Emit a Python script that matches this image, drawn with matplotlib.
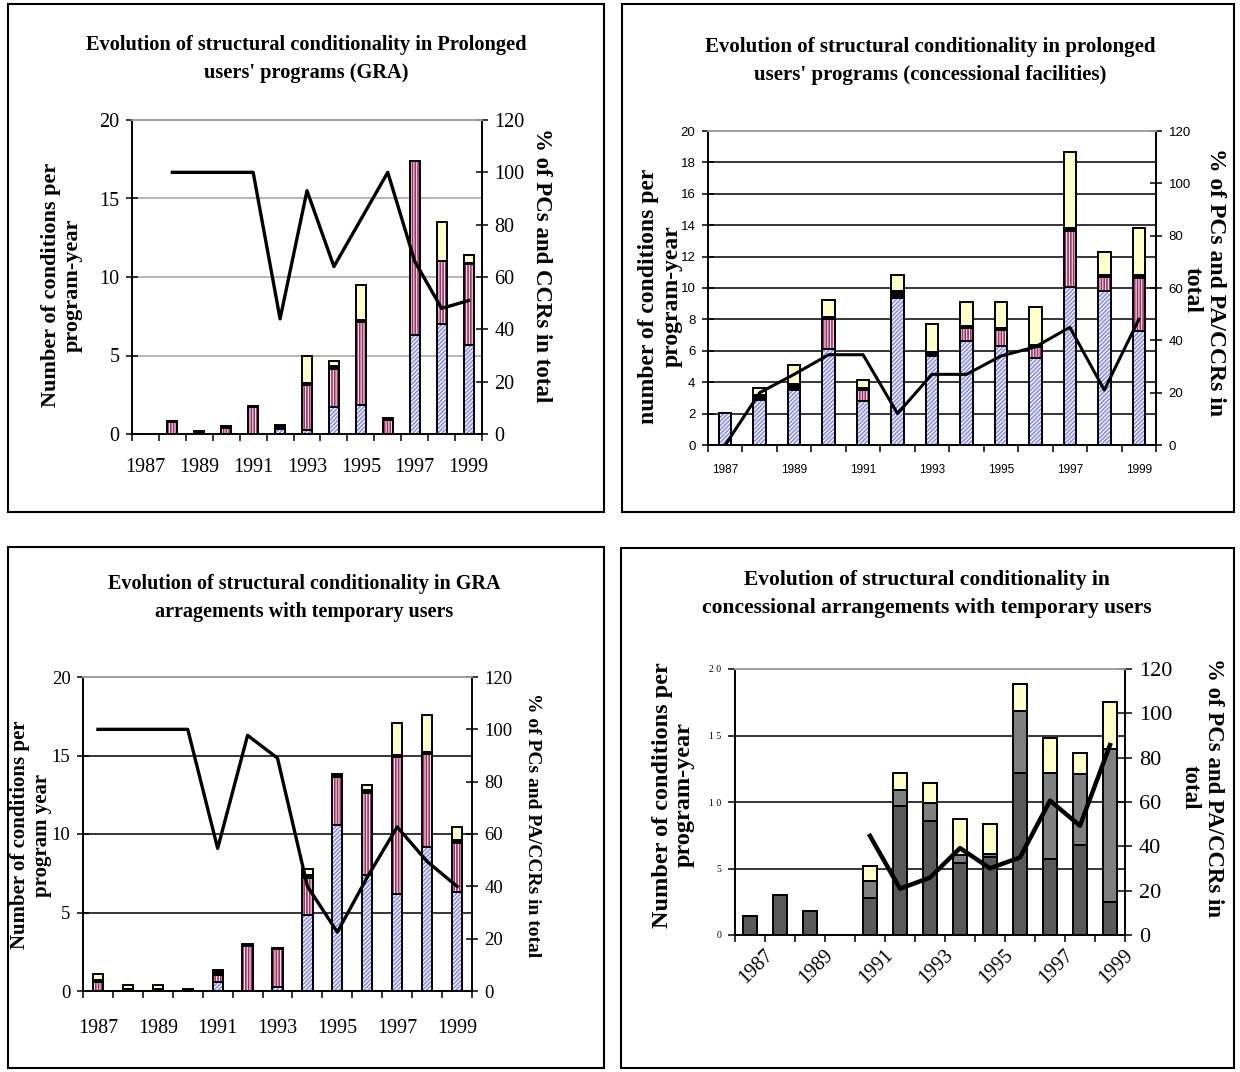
import numpy as np
import matplotlib
matplotlib.use("Agg")
from matplotlib import pyplot as plt
from matplotlib.patches import Rectangle
from matplotlib.ticker import FixedLocator, FuncFormatter
from matplotlib.transforms import ScaledTranslation

# years shared by all four charts
years = [1987, 1988, 1989, 1990, 1991, 1992, 1993, 1994, 1995, 1996, 1997, 1998, 1999]

# top left: prolonged users, GRA
gra_prol_blue = [0, 0, 0, 0, 0, 0.3, 0.25, 1.75, 1.85, 0, 6.3, 7.0, 5.7]
gra_prol_pink = [0, 0.75, 0, 0.4, 1.7, 0, 2.85, 2.4, 5.3, 0.9, 11.1, 4.0, 5.1]
gra_prol_black = [0, 0.1, 0.2, 0.1, 0.1, 0.3, 0.15, 0.2, 0.1, 0.1, 0, 0.05, 0.1]
gra_prol_yellow = [0, 0, 0, 0, 0, 0, 1.7, 0.3, 2.25, 0, 0, 2.45, 0.5]
gra_prol_pct = [np.nan, 100, 100, 100, 100, 44, 93, 64, 82, 100, 66, 48, 51]

# top right: prolonged users, concessional facilities
con_prol_blue = [2.05, 2.85, 3.5, 6.1, 2.8, 9.35, 5.65, 6.65, 6.3, 5.55, 10.05, 9.8, 7.25]
con_prol_pink = [0, 0, 0, 1.9, 0.7, 0, 0, 0.8, 1.0, 0.7, 3.55, 0.9, 3.4]
con_prol_black = [0, 0.35, 0.4, 0.15, 0.15, 0.45, 0.25, 0.15, 0.15, 0.1, 0.2, 0.15, 0.15]
con_prol_yellow = [0, 0.4, 1.2, 1.1, 0.5, 1.0, 1.8, 1.5, 1.65, 2.45, 4.85, 1.45, 3.0]
con_prol_pct = [0, 20, 27, 34.5, 34.5, 12, 27, 27, 34, 37.5, 45, 21, 48]

# bottom left: GRA, temporary users
gra_temp_blue = [0, 0, 0, 0, 0.6, 0, 0.25, 4.85, 10.55, 7.4, 6.2, 9.2, 6.3]
gra_temp_pink = [0.55, 0, 0, 0, 0.45, 2.85, 2.4, 2.35, 3.1, 5.2, 8.7, 5.9, 3.15]
gra_temp_black = [0.15, 0.1, 0.1, 0.1, 0.3, 0.15, 0.1, 0.2, 0.15, 0.2, 0.1, 0.1, 0.15]
gra_temp_yellow = [0.4, 0.3, 0.3, 0, 0, 0, 0, 0.4, 0, 0.3, 2.1, 2.4, 0.85]
gra_temp_pct = [100, 100, 100, 100, 54.5, 97.7, 89, 40, 22.5, 43.5, 62.7, 49.5, 40]

# bottom right: concessional, temporary users
con_temp_dark = [1.45, 3.0, 1.8, 0, 2.75, 9.7, 8.6, 5.4, 5.85, 12.2, 5.7, 6.8, 2.45]
con_temp_grey = [0, 0, 0, 0, 1.3, 1.2, 1.3, 0.6, 0.25, 4.65, 6.5, 5.3, 11.5]
con_temp_yellow = [0, 0, 0, 0, 1.15, 1.3, 1.55, 2.7, 2.25, 2.0, 2.6, 1.6, 3.55]
con_temp_pct = [np.nan, np.nan, np.nan, np.nan, 44.7, 20.9, 25.9, 39.2, 30.1, 35, 60.6, 49.3, 85.7]

W, H = 1240, 1072
fig = plt.figure(figsize=(W / 100, H / 100), dpi=100)
SERIF = ['Liberation Serif', 'DejaVu Serif']
SANS = ['Liberation Sans', 'DejaVu Sans']
plt.rcParams['hatch.linewidth'] = 1.2

x = np.arange(len(years))


def px_axes(left, top, right, bottom):
    return fig.add_axes([left / W, 1 - bottom / H, (right - left) / W, (bottom - top) / H])


def frame(left, top, right, bottom):
    fig.add_artist(Rectangle((left / W, 1 - bottom / H), (right - left) / W, (bottom - top) / H,
                             transform=fig.transFigure, fill=False, lw=1.5, ec='black'))


def label(xp, yp, s, rot, size, ls=1.15):
    fig.text(xp / W, 1 - yp / H, s, rotation=rot, ha='center', va='center',
             family=SERIF, weight='bold', fontsize=size, linespacing=ls)


def stack(ax, parts, width):
    bottom = np.zeros(len(x))
    for vals, fc, hatch, hc in parts:
        vals = np.asarray(vals, float)
        m = vals > 0
        if hatch:
            ax.bar(x[m], vals[m], width, bottom=bottom[m], color=fc, edgecolor=hc,
                   hatch=hatch, linewidth=0, zorder=2)
        else:
            ax.bar(x[m], vals[m], width, bottom=bottom[m], color=fc, linewidth=0, zorder=2)
        ax.bar(x[m], vals[m], width, bottom=bottom[m], fill=False, edgecolor='black',
               linewidth=1.4, zorder=3)
        bottom += vals


def setup(ax, ax2, yticks, grid_color, tick_font, tick_size, xlab_size, xpad, rotate=False):
    ax.set_xlim(-0.5, len(x) - 0.5)
    ax.set_ylim(0, 20)
    ax2.set_ylim(0, 120)
    ax.set_yticks(yticks)
    ax2.set_yticks(range(0, 121, 20))
    ax.set_axisbelow(True)
    for yv in yticks[1:-1]:
        ax.axhline(yv, color=grid_color, lw=1.1, zorder=0)
    for a in (ax, ax2):
        a.spines['top'].set_color('#a0a0a0')
        a.spines['top'].set_linewidth(1.3)
        for s in ('left', 'right', 'bottom'):
            a.spines[s].set_linewidth(1.2)
    ax.tick_params(axis='y', direction='inout', length=8, width=1.1, pad=5)
    ax2.tick_params(axis='y', direction='inout', length=8, width=1.1, pad=5)
    ax.set_xticks(x[::2])
    ax.set_xticklabels([str(y) for y in years[::2]])
    ax.xaxis.set_minor_locator(FixedLocator(np.arange(-0.5, len(x), 1)))
    ax.tick_params(axis='x', which='major', length=0, pad=xpad)
    ax.tick_params(axis='x', which='minor', direction='out', length=5, width=1.1)
    for lab in ax.get_yticklabels() + ax2.get_yticklabels():
        lab.set_family(tick_font)
        lab.set_fontsize(tick_size)
    for lab in ax.get_xticklabels():
        lab.set_family(tick_font)
        lab.set_fontsize(xlab_size)
        if rotate:
            lab.set_rotation(45)
            lab.set_ha('right')
            lab.set_va('top')
            lab.set_rotation_mode('anchor')
            lab.set_transform(lab.get_transform() + ScaledTranslation(0.14, 0, fig.dpi_scale_trans))


blue = ('white', '////////', '#8c8cf0')
pink = ('#f8e4ee', '||||||', '#993366')
blk = ('black', None, None)
yel = ('#ffffcc', None, None)

# ---------- panel 1 ----------
frame(8, 4, 604, 512)
ax = px_axes(132, 120, 482, 434)
ax2 = ax.twinx()
stack(ax, [(gra_prol_blue,) + blue, (gra_prol_pink,) + pink,
           (gra_prol_black,) + blk, (gra_prol_yellow,) + yel], 0.37)
ax2.plot(x, gra_prol_pct, color='black', lw=2.4)
setup(ax, ax2, [0, 5, 10, 15, 20], '#a0a0a0', SERIF, 14.5, 14.5, 17)
label(306, 59, "Evolution of structural conditionality in Prolonged\nusers' programs (GRA)", 0, 14.7, 1.55)
label(62, 285, 'Number of conditions per\nprogram-year', 90, 16)
label(541, 265, '% of PCs and CCRs in total', -90, 16.5)

# ---------- panel 2 ----------
frame(622, 4, 1234, 512)
ax = px_axes(708, 131, 1156, 445)
ax2 = ax.twinx()
stack(ax, [(con_prol_blue,) + blue, (con_prol_pink,) + pink,
           (con_prol_black,) + blk, (con_prol_yellow,) + yel], 0.36)
ax2.plot(x, con_prol_pct, color='black', lw=2.2)
setup(ax, ax2, list(range(0, 21, 2)), 'black', SANS, 9.5, 8.5, 14)
label(930, 61, "Evolution of structural conditionality in prolonged\nusers' programs (concessional facilities)", 0, 15, 1.55)
label(660, 296, 'number of conditions per\nprogram-year', 90, 17)
label(1215, 282, '% of PCs and PA/CCRs in', -90, 17)
label(1192, 290, 'total', -90, 17)

# ---------- panel 3 ----------
frame(8, 547, 604, 1068)
ax = px_axes(83, 677, 472, 991)
ax2 = ax.twinx()
stack(ax, [(gra_temp_blue,) + blue, (gra_temp_pink,) + pink,
           (gra_temp_black,) + blk, (gra_temp_yellow,) + yel], 0.34)
ax2.plot(x, gra_temp_pct, color='black', lw=2.4)
setup(ax, ax2, [0, 5, 10, 15, 20], 'black', SERIF, 13.5, 14.5, 20)
label(304, 598, "Evolution of structural conditionality in GRA\narragements with temporary users", 0, 14.5, 1.55)
label(31, 835, 'Number of conditions per\nprogram year', 90, 15)
label(532, 825, '% of PCs and PA/CCRs in total', -90, 14)

# ---------- panel 4 ----------
frame(621, 548, 1234, 1068)
ax = px_axes(735, 669, 1125, 935)
ax2 = ax.twinx()
stack(ax, [(con_temp_dark, '#595959', None, None), (con_temp_grey, '#808080', None, None),
           (con_temp_yellow,) + yel], 0.44)
ax2.plot(x, con_temp_pct, color='black', lw=3.2)
setup(ax, ax2, [0, 5, 10, 15, 20], 'black', SERIF, 16, 14.5, 8, rotate=True)
ax.yaxis.set_major_formatter(FuncFormatter(lambda v, p: ' '.join(str(int(v)))))
for lab in ax.get_yticklabels():
    lab.set_fontsize(7)
ax.tick_params(axis='y', direction='out', length=5)
ax2.tick_params(axis='y', direction='inout', length=10)
label(927, 594, 'Evolution of structural conditionality in\nconcessional arrangements with temporary users', 0, 15.5, 1.5)
label(673, 795, 'Number of conditions per\nprogram-year', 90, 17.5, 1.05)
label(1214, 787, '% of PCs and PA/CCRs in', -90, 16.5)
label(1190, 787, 'total', -90, 16.5)

fig.savefig('out.png', dpi=100)
